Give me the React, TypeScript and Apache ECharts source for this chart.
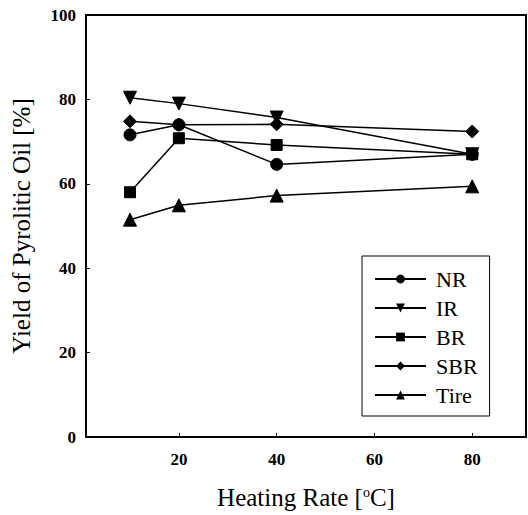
import React, { useEffect, useRef } from "react";
import * as echarts from "echarts";

const heatingRates = [10, 20, 40, 80];
const seriesNames = ["NR", "IR", "BR", "SBR", "Tire"];
const nrValues = [71.6, 74.0, 64.6, 67.0];
const irValues = [80.4, 79.0, 75.7, 67.0];
const brValues = [58.0, 70.8, 69.2, 67.0];
const sbrValues = [74.8, 74.0, 74.1, 72.4];
const tireValues = [51.5, 54.9, 57.2, 59.4];
const xTickValues = [20, 40, 60, 80];
const yTickValues = [0, 20, 40, 60, 80, 100];

const symbols = ["circle", "triangle", "rect", "diamond", "triangle"];
const symbolRotations = [0, 180, 0, 0, 0];
const symbolSizes = [12, 13, 11, 13, 13];

export default function App() {
  const ref = useRef<HTMLDivElement>(null);
  useEffect(() => {
    if (!ref.current) return;
    const chart = echarts.init(ref.current, undefined, { renderer: "svg" });
    const allValues = [nrValues, irValues, brValues, sbrValues, tireValues];
    const font = "'Liberation Serif', 'Times New Roman', serif";
    const tickLabel = {
      fontFamily: font,
      fontSize: 17,
      fontWeight: "bold",
      color: "#000",
    };
    chart.setOption({
      animation: false,
      backgroundColor: "#ffffff",
      textStyle: { fontFamily: font, color: "#000" },
      grid: {
        left: 86,
        top: 15,
        right: 2,
        bottom: 78,
        outerBoundsMode: "none",
        containLabel: false,
        show: true,
        borderColor: "#000",
        borderWidth: 2,
        backgroundColor: "transparent",
      },
      legend: {
        orient: "vertical",
        left: 362,
        top: 256,
        width: 136,
        padding: [12, 12, 10, 12],
        borderColor: "#000",
        borderWidth: 1,
        itemWidth: 51,
        itemHeight: 11,
        itemGap: 7,
        data: seriesNames,
        textStyle: { fontFamily: font, fontSize: 22, color: "#000", lineHeight: 20, padding: [0, 0, 0, 5] },
      },
      xAxis: {
        type: "value",
        min: 1,
        max: 91,
        name: "Heating Rate [{sup|o}C]",
        nameLocation: "middle",
        nameGap: 48,
        nameTextStyle: {
          fontFamily: font,
          fontSize: 25,
          color: "#000",
          rich: {
            sup: { fontFamily: font, fontSize: 14, verticalAlign: "top", lineHeight: 14, padding: [0, 0, 13, 0] },
          },
        },
        axisLine: { show: true, lineStyle: { color: "#000", width: 2 } },
        axisTick: { show: true, inside: true, length: 4, customValues: xTickValues, lineStyle: { color: "#000", width: 1 } },
        axisLabel: {
          customValues: xTickValues,
          margin: 14,
          ...tickLabel,
        },
        splitLine: { show: false },
      },
      yAxis: {
        type: "value",
        min: 0,
        max: 100,
        interval: 20,
        name: "Yield of Pyrolitic Oil [%]",
        nameLocation: "middle",
        nameGap: 52,
        nameTextStyle: { fontFamily: font, fontSize: 25, color: "#000" },
        axisLine: { show: true, lineStyle: { color: "#000", width: 2 } },
        axisTick: { show: true, inside: true, length: 4, lineStyle: { color: "#000", width: 1 } },
        axisLabel: {
          customValues: yTickValues,
          margin: 10,
          ...tickLabel,
        },
        splitLine: { show: false },
      },
      series: seriesNames.map((name, i) => ({
        name,
        type: "line",
        data: heatingRates.map((x, j) => [x, allValues[i][j]]),
        symbol: symbols[i],
        symbolRotate: symbolRotations[i],
        symbolSize: symbolSizes[i],
        showAllSymbol: true,
        lineStyle: { color: "#000", width: 1.5 },
        itemStyle: { color: "#000", borderColor: "#000" },
        emphasis: { disabled: true },
      })),
    });
    return () => chart.dispose();
  }, []);
  return (
    <div
      ref={ref}
      style={{ position: "absolute", left: 0, top: 0, width: 528, height: 515 }}
    />
  );
}
